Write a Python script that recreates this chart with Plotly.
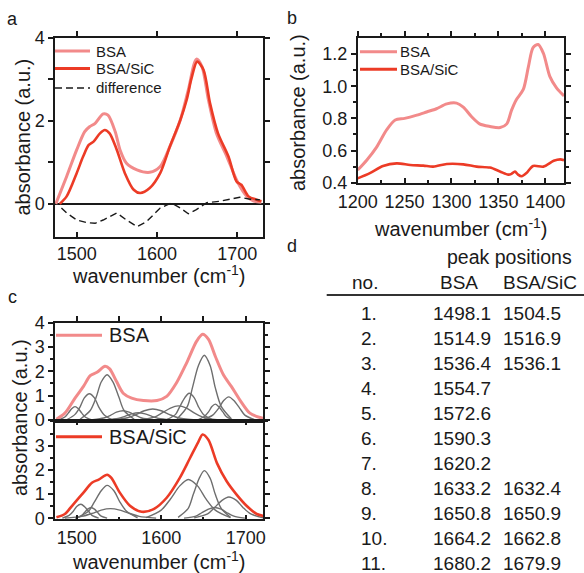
import plotly.graph_objects as go

W, H = 584, 573
FONT = "Liberation Sans, Arial, sans-serif"
INK = "#1a1a1a"
C_BSA = "#F28A8A"
C_SIC = "#EC3B26"
C_COMP = "#6e6e6e"

# ---------------- panel a: absorbance 1473-1732 ----------------
a_bsa_x = [1474, 1487.5, 1500, 1510, 1516, 1523, 1533, 1539, 1548, 1554, 1562, 1575, 1591,
           1604, 1616, 1629, 1639, 1649, 1656, 1664, 1674, 1687, 1700, 1712, 1720, 1730]
a_bsa_y = [0.00, 0.66, 1.30, 1.74, 1.86, 1.94, 2.17, 2.14, 1.74, 1.30, 0.98, 0.82, 0.76,
           0.90, 1.38, 2.02, 2.75, 3.49, 3.31, 2.51, 1.70, 1.14, 0.54, 0.18, 0.07, 0.04]
a_sic_x = [1479, 1487.5, 1500, 1508, 1515, 1521, 1529, 1535, 1541, 1550, 1560, 1571, 1579, 1591,
           1604, 1616, 1629, 1637, 1643, 1650, 1658, 1666, 1676, 1689, 1699, 1705, 1714, 1724, 1730]
a_sic_y = [0.00, 0.18, 0.74, 1.14, 1.42, 1.50, 1.70, 1.78, 1.70, 1.30, 0.74, 0.34, 0.26, 0.38,
           0.74, 1.38, 2.02, 2.51, 3.03, 3.43, 3.23, 2.43, 1.70, 1.14, 0.54, 0.46, 0.18, 0.10, 0.06]
a_dif_x = [1481, 1487.5, 1500, 1512, 1523, 1533, 1550, 1562, 1575, 1587, 1604, 1618, 1629,
           1639, 1649, 1662, 1678, 1695, 1703, 1716, 1728]
a_dif_y = [-0.10, -0.22, -0.39, -0.45, -0.47, -0.39, -0.22, -0.39, -0.55, -0.43, -0.10, 0.02, -0.10,
           -0.24, -0.14, 0.03, 0.06, 0.14, 0.16, 0.11, 0.10]

# ---------------- panel b: absorbance 1200-1420 ----------------
b_bsa_x = [1200, 1209.6, 1220, 1231, 1240, 1250, 1263, 1273.5, 1284, 1295, 1305.5, 1312.6, 1321.5,
           1330, 1341, 1352, 1359, 1364, 1369, 1376.6, 1382, 1387, 1392.5, 1398, 1405, 1412, 1420]
b_bsa_y = [0.479, 0.54, 0.62, 0.73, 0.79, 0.80, 0.82, 0.84, 0.86, 0.89, 0.895, 0.87, 0.81,
           0.766, 0.75, 0.743, 0.766, 0.85, 0.915, 0.98, 1.12, 1.24, 1.26, 1.205, 1.06, 0.99, 0.94]
b_sic_x = [1200, 1213, 1227, 1241.6, 1256, 1270, 1280.6, 1295, 1312.6, 1326.8, 1341, 1351.7,
           1360.6, 1364, 1367.7, 1371, 1374.8, 1380, 1387, 1398, 1409, 1416, 1420]
b_sic_y = [0.427, 0.46, 0.504, 0.52, 0.51, 0.506, 0.50, 0.516, 0.514, 0.50, 0.494, 0.47,
           0.45, 0.455, 0.47, 0.45, 0.44, 0.46, 0.504, 0.50, 0.536, 0.545, 0.54]

# ---------------- panel c: fitted envelopes and components ----------------
c_bsa_x = [1476, 1486, 1498, 1508, 1516, 1524, 1533.5, 1539, 1547, 1555, 1565, 1579, 1595,
           1606.5, 1618, 1630, 1642, 1649, 1656, 1664, 1673.6, 1683, 1693, 1705, 1717, 1725]
c_bsa_y = [0.03, 0.28, 0.90, 1.38, 1.82, 1.96, 2.21, 2.10, 1.59, 1.10, 0.90, 0.80, 0.80,
           0.97, 1.52, 2.34, 3.24, 3.52, 3.31, 2.62, 1.86, 1.38, 0.83, 0.28, 0.10, 0.05]
c_sic_x = [1476, 1486, 1496, 1508, 1518, 1526, 1536, 1541, 1551, 1563, 1577, 1591, 1606.5,
           1622, 1634, 1644, 1649, 1656, 1666, 1677.5, 1689, 1701, 1713, 1725]
c_sic_y = [0.04, 0.18, 0.58, 1.06, 1.47, 1.60, 1.80, 1.67, 1.06, 0.52, 0.27, 0.38, 0.85,
           1.67, 2.48, 3.16, 3.46, 3.23, 2.28, 1.53, 0.99, 0.52, 0.18, 0.07]

c_bsa_comp_x = [
    [1479, 1486, 1490, 1494, 1498, 1502, 1506, 1510, 1517],
    [1489, 1498, 1504, 1509, 1515, 1521, 1526, 1532, 1541],
    [1504, 1516, 1523, 1529, 1536, 1543, 1550, 1556, 1568],
    [1519, 1532, 1540, 1547, 1555, 1562, 1570, 1577, 1591],
    [1535, 1549, 1557, 1565, 1573, 1581, 1589, 1597, 1611],
    [1542, 1560, 1570, 1580, 1590, 1600, 1610, 1620, 1638],
    [1574, 1592, 1601, 1611, 1620, 1630, 1639, 1649, 1666],
    [1607, 1617, 1622, 1628, 1633, 1639, 1644, 1650, 1660],
    [1619, 1631, 1637, 1644, 1651, 1658, 1664, 1671, 1683],
    [1644, 1651, 1656, 1660, 1664, 1668, 1673, 1677, 1684],
    [1650, 1661, 1668, 1674, 1680, 1686, 1693, 1699, 1710],
]
c_bsa_comp_y = [
    [0.01, 0.12, 0.28, 0.46, 0.55, 0.46, 0.28, 0.12, 0.01],
    [0.02, 0.23, 0.54, 0.91, 1.08, 0.91, 0.54, 0.23, 0.02],
    [0.03, 0.39, 0.93, 1.56, 1.86, 1.56, 0.93, 0.39, 0.03],
    [0.01, 0.08, 0.19, 0.32, 0.38, 0.32, 0.19, 0.08, 0.01],
    [0.01, 0.06, 0.15, 0.25, 0.30, 0.25, 0.15, 0.06, 0.01],
    [0.01, 0.09, 0.22, 0.38, 0.45, 0.38, 0.22, 0.09, 0.01],
    [0.01, 0.12, 0.29, 0.49, 0.58, 0.49, 0.29, 0.12, 0.01],
    [0.02, 0.23, 0.55, 0.92, 1.10, 0.92, 0.55, 0.23, 0.02],
    [0.05, 0.56, 1.33, 2.23, 2.66, 2.23, 1.33, 0.56, 0.05],
    [0.01, 0.14, 0.33, 0.55, 0.65, 0.55, 0.33, 0.14, 0.01],
    [0.02, 0.20, 0.48, 0.80, 0.95, 0.80, 0.48, 0.20, 0.02],
]
c_sic_comp_x = [
    [1483, 1491, 1496, 1500, 1505, 1509, 1514, 1518, 1526],
    [1498, 1505, 1509, 1513, 1517, 1521, 1525, 1529, 1536],
    [1500, 1514, 1521, 1529, 1536, 1544, 1551, 1559, 1572],
    [1486, 1506, 1518, 1529, 1540, 1551, 1563, 1574, 1594],
    [1582, 1600, 1611, 1622, 1632, 1643, 1653, 1664, 1682],
    [1620, 1632, 1638, 1645, 1651, 1658, 1664, 1671, 1682],
    [1627, 1641, 1648, 1656, 1663, 1671, 1678, 1686, 1699],
    [1639, 1655, 1663, 1672, 1680, 1689, 1697, 1706, 1721],
]
c_sic_comp_y = [
    [0.01, 0.12, 0.29, 0.49, 0.58, 0.49, 0.29, 0.12, 0.01],
    [0.01, 0.09, 0.23, 0.38, 0.45, 0.38, 0.23, 0.09, 0.01],
    [0.02, 0.29, 0.68, 1.14, 1.36, 1.14, 0.68, 0.29, 0.02],
    [0.01, 0.08, 0.20, 0.34, 0.40, 0.34, 0.20, 0.08, 0.01],
    [0.03, 0.34, 0.80, 1.34, 1.60, 1.34, 0.80, 0.34, 0.03],
    [0.04, 0.41, 0.99, 1.65, 1.97, 1.65, 0.99, 0.41, 0.04],
    [0.01, 0.09, 0.23, 0.38, 0.45, 0.38, 0.23, 0.09, 0.01],
    [0.02, 0.18, 0.44, 0.74, 0.88, 0.74, 0.44, 0.18, 0.02],
]

# ---------------- panel d: table of peak positions ----------------
peak_no = ["1.", "2.", "3.", "4.", "5.", "6.", "7.", "8.", "9.", "10.", "11."]
peak_bsa = ["1498.1", "1514.9", "1536.4", "1554.7", "1572.6", "1590.3", "1620.2",
            "1633.2", "1650.8", "1664.2", "1680.2"]
peak_sic = ["1504.5", "1516.9", "1536.1", "", "", "", "",
            "1632.4", "1650.9", "1662.8", "1679.9"]


def px(x):
    return x / W


def py(y):
    return 1 - y / H


fig = go.Figure()


def line(x, y, xa, ya, color, width, dash="solid", shape="spline"):
    fig.add_trace(go.Scatter(x=x, y=y, xaxis=xa, yaxis=ya, mode="lines",
                             line=dict(color=color, width=width, dash=dash, shape=shape, smoothing=0.8),
                             showlegend=False, hoverinfo="skip"))


# panel a
line(a_bsa_x, a_bsa_y, "x", "y", C_BSA, 3)
line(a_sic_x, a_sic_y, "x", "y", C_SIC, 2.6)
line(a_dif_x, a_dif_y, "x", "y", INK, 1.4, dash="7px,4px", shape="linear")
# panel b
line(b_bsa_x, b_bsa_y, "x2", "y2", C_BSA, 3)
line(b_sic_x, b_sic_y, "x2", "y2", C_SIC, 2.6)
# panel c
for cx, cy in zip(c_bsa_comp_x, c_bsa_comp_y):
    line(cx, cy, "x3", "y3", C_COMP, 1.4)
line(c_bsa_x, c_bsa_y, "x3", "y3", C_BSA, 3)
for cx, cy in zip(c_sic_comp_x, c_sic_comp_y):
    line(cx, cy, "x4", "y4", C_COMP, 1.4)
line(c_sic_x, c_sic_y, "x4", "y4", C_SIC, 2.6)

# invisible helpers so the top (overlay) axes of panels a and b are drawn
fig.add_trace(go.Scatter(x=[1600], y=[-10], xaxis="x5", yaxis="y", mode="markers",
                         showlegend=False, hoverinfo="skip", marker=dict(opacity=0)))
fig.add_trace(go.Scatter(x=[1300], y=[-10], xaxis="x6", yaxis="y2", mode="markers",
                         showlegend=False, hoverinfo="skip", marker=dict(opacity=0)))

base = dict(showline=True, linecolor=INK, linewidth=1.5, showgrid=False, zeroline=False,
            tickcolor=INK, tickwidth=1.5, ticklen=5, automargin=False,
            tickfont=dict(size=18, color=INK, family=FONT))
MINOR = dict(tickcolor=INK, tickwidth=1.5)

XA = [px(55), px(263)]
XB = [px(357.7), px(564)]
YA = [py(237), py(38)]
YB = [py(182.7), py(38)]
YC1 = [py(420.7), py(322.7)]
YC2 = [py(519.3), py(420.7)]
RA = [1473, 1732]
RB = [1200, 1420]
RC = [1474.3, 1720.5]

fig.update_layout(
    template="none",
    xaxis=dict(base, domain=XA, range=RA, anchor="y", ticks="inside",
               tickvals=[1500, 1600, 1700], ticklabelstandoff=0),
    xaxis5=dict(base, range=RA, anchor="y", overlaying="x", side="top", ticks="outside",
                tickvals=[1500, 1600, 1700], showticklabels=False),
    yaxis=dict(base, domain=YA, range=[-0.8, 4], anchor="x", ticks="outside", mirror="ticks",
               tickvals=[0, 2, 4], minor=dict(MINOR, tickvals=[1, 3], ticks="outside", ticklen=5),
               zeroline=True, zerolinecolor=INK, zerolinewidth=1.5),
    xaxis2=dict(base, domain=XB, range=RB, anchor="y2", ticks="inside",
                tickvals=[1200, 1250, 1300, 1350, 1400], ticklabelstandoff=2,
                minor=dict(MINOR, tickvals=[1225, 1275, 1325, 1375], ticks="inside", ticklen=3)),
    xaxis6=dict(base, range=RB, anchor="y2", overlaying="x2", side="top", ticks="outside",
                tickvals=[1200, 1250, 1300, 1350, 1400],
                minor=dict(MINOR, tickvals=[1225, 1275, 1325, 1375], ticks="outside", ticklen=3),
                showticklabels=False),
    yaxis2=dict(base, domain=YB, range=[0.4, 1.3], anchor="x2", ticks="outside", mirror="ticks",
                tickvals=[0.4, 0.6, 0.8, 1.0, 1.2], tickformat=".1f",
                minor=dict(MINOR, tickvals=[0.5, 0.7, 0.9, 1.1], ticks="outside", ticklen=3)),
    xaxis3=dict(base, domain=XA, range=RC, anchor="y3", side="top", ticks="outside", mirror=True,
                tickvals=[1500, 1600, 1700], showticklabels=False,
                minor=dict(MINOR, tickvals=[1550, 1650], ticks="outside", ticklen=5)),
    yaxis3=dict(base, domain=YC1, range=[-0.03, 4], anchor="x3", ticks="outside", mirror="ticks",
                tickvals=[0, 1, 2, 3, 4],
                minor=dict(MINOR, tickvals=[0.5, 1.5, 2.5, 3.5], ticks="outside", ticklen=3)),
    xaxis4=dict(base, domain=XA, range=RC, anchor="y4", ticks="inside", mirror="ticks",
                tickvals=[1500, 1600, 1700], ticklabelstandoff=1,
                minor=dict(MINOR, tickvals=[1550, 1650], ticks="inside", ticklen=3)),
    yaxis4=dict(base, domain=YC2, range=[-0.04, 4.03], anchor="x4", ticks="outside", mirror="ticks",
                tickvals=[0, 1, 2, 3],
                minor=dict(MINOR, tickvals=[0.5, 1.5, 2.5, 3.5, 4], ticks="outside", ticklen=3)),
)

ann = []
shapes = []


def text(x, y, s, size, xanchor="center", angle=0):
    ann.append(dict(x=px(x), y=py(y), xref="paper", yref="paper", text=s, showarrow=False,
                    xanchor=xanchor, yanchor="middle", textangle=angle,
                    font=dict(size=size, color=INK, family=FONT)))


def legline(x0, x1, y, color, width, dash="solid"):
    shapes.append(dict(type="line", xref="paper", yref="paper", x0=px(x0), x1=px(x1),
                       y0=py(y), y1=py(y), line=dict(color=color, width=width, dash=dash)))


# panel letters
text(12.5, 19, "a", 18)
text(292, 17.5, "b", 18)
text(12, 297, "c", 18)
text(292, 245.5, "d", 18)

# axis titles
xt = "wavenumber (cm<sup>-1</sup>)"
yt = "absorbance (a.u.)"
text(159, 274, xt, 20)
text(461, 227, xt, 20)
text(158.5, 560, xt, 20)
text(22, 137.5, yt, 20, angle=-90)
text(298, 113, yt, 20, angle=-90)
text(20, 418, yt, 20, angle=-90)

# legends
legline(55, 90, 51, C_BSA, 3)
legline(55, 90, 68.5, C_SIC, 3)
legline(55, 90, 88, INK, 1.4, dash="7px,4px")
text(94, 51, "BSA", 15, xanchor="left")
text(94, 68.5, "BSA/SiC", 15, xanchor="left")
text(94, 88, "difference", 15, xanchor="left")

legline(360, 397, 51.7, C_BSA, 3)
legline(360, 397, 69.3, C_SIC, 3)
text(398, 51.7, "BSA", 15, xanchor="left")
text(398, 69.3, "BSA/SiC", 15, xanchor="left")

legline(56, 102, 335.3, C_BSA, 3)
text(107, 335.3, "BSA", 20, xanchor="left")
legline(56, 102, 436.7, C_SIC, 3)
text(107, 436.7, "BSA/SiC", 20, xanchor="left")

# table
text(509, 257, "peak positions", 19.5)
text(365, 283, "no.", 19)
text(458.5, 283, "BSA", 19)
text(540, 283, "BSA/SiC", 19)
shapes.append(dict(type="line", xref="paper", yref="paper", x0=px(326.7), x1=px(584),
                   y0=py(295), y1=py(295), line=dict(color="#333333", width=2)))
for i, (n, b, s) in enumerate(zip(peak_no, peak_bsa, peak_sic)):
    yy = 313.3 + 25 * i
    text(359, yy, n, 19, xanchor="left")
    text(431, yy, b, 19, xanchor="left")
    if s:
        text(501, yy, s, 19, xanchor="left")

fig.update_layout(width=W, height=H, autosize=False, margin=dict(l=0, r=0, t=0, b=0, pad=0),
                  plot_bgcolor="white", paper_bgcolor="white", showlegend=False,
                  font=dict(family=FONT, color=INK), annotations=ann, shapes=shapes)

fig.write_html("out.html", config={"displayModeBar": False},
               post_script="document.body.style.margin='0px';")
